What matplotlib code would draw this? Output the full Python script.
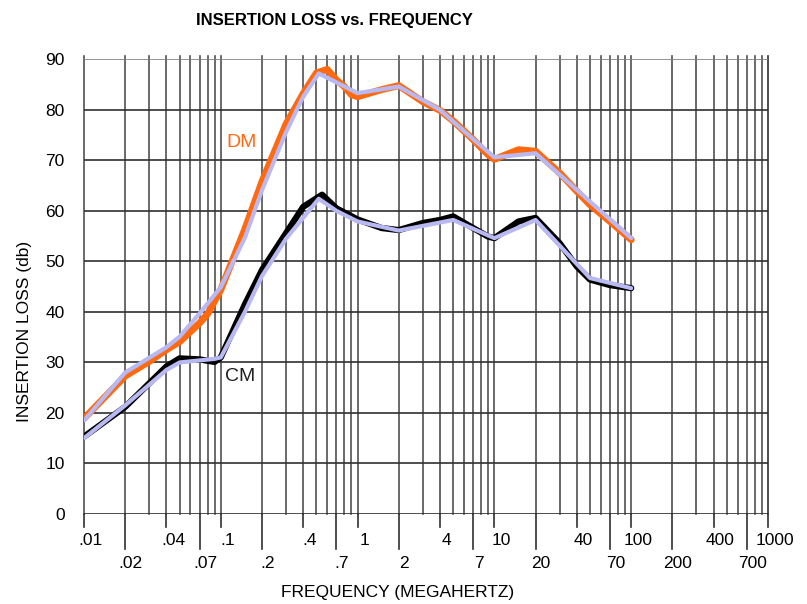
import numpy as np
import matplotlib
matplotlib.use("Agg")
import matplotlib.pyplot as plt
import matplotlib.transforms as mtransforms

plt.rcParams['font.family'] = ['Liberation Sans', 'DejaVu Sans']

# DM (differential mode) measured curve, orange
dm_freq = [0.01, 0.02, 0.03, 0.04, 0.05, 0.07, 0.08, 0.1, 0.15, 0.2, 0.3, 0.4,
           0.5, 0.6, 0.7, 0.8, 0.9, 1.0, 1.5, 2.0, 3.0, 4.0, 5.0, 7.0, 9.0,
           10.0, 15.0, 20.0, 30.0, 40.0, 50.0, 70.0, 100.0]
dm_loss = [18.9, 27.3, 30.2, 32.5, 34.1, 37.8, 39.6, 44.4, 56.4, 65.8, 77.2, 83.2,
           87.3, 88.0, 85.9, 84.6, 83.0, 82.6, 84.0, 84.8, 81.6, 79.9, 77.8, 74.1, 71.1,
           70.2, 72.1, 71.8, 67.5, 63.9, 61.2, 57.9, 54.3]

# DM overlay (lavender)
dm_ref_freq = [0.01, 0.02, 0.04, 0.05, 0.07, 0.1, 0.15, 0.2, 0.3, 0.4, 0.52,
               1.0, 2.0, 4.0, 7.0, 10.0, 20.0, 100.0]
dm_ref = [18.5, 28.0, 33.0, 35.1, 39.7, 44.9, 54.7, 64.1, 75.6, 82.6, 87.2,
          83.3, 84.6, 80.0, 74.2, 70.6, 71.4, 54.6]

# CM (common mode) measured curve, black
cm_freq = [0.01, 0.02, 0.04, 0.05, 0.07, 0.09, 0.1, 0.15, 0.2, 0.3, 0.4, 0.55,
           0.7, 1.0, 1.5, 2.0, 3.0, 4.0, 5.0, 7.0, 9.0, 10.0, 15.0, 20.0, 30.0,
           40.0, 50.0, 70.0, 100.0]
cm_loss = [15.3, 21.2, 29.2, 30.8, 30.6, 30.1, 31.0, 41.5, 48.3, 55.6, 60.8, 63.2,
           60.5, 58.3, 56.6, 56.2, 57.6, 58.2, 58.9, 56.6, 54.9, 54.6, 57.9, 58.6, 53.6,
           49.0, 46.4, 45.3, 44.7]

# CM overlay (lavender)
cm_ref_freq = [0.01, 0.02, 0.04, 0.05, 0.09, 0.1, 0.15, 0.2, 0.3, 0.52, 0.7,
               1.0, 2.0, 5.0, 10.0, 20.0, 50.0, 100.0]
cm_ref = [15.0, 21.5, 28.5, 30.0, 30.7, 31.0, 40.0, 47.1, 54.5, 62.4, 60.0,
          57.9, 56.1, 58.2, 54.6, 58.2, 46.7, 44.7]

y_ticks = list(range(0, 91, 10))
upper_labels = [(0.01, ".01"), (0.04, ".04"), (0.1, ".1"), (0.4, ".4"), (1, "1"),
                (4, "4"), (10, "10"), (40, "40"), (100, "100"), (400, "400"),
                (1000, "1000")]
lower_labels = [(0.02, ".02"), (0.07, ".07"), (0.2, ".2"), (0.7, ".7"), (2, "2"),
                (7, "7"), (20, "20"), (70, "70"), (200, "200"), (700, "700")]

fig = plt.figure(figsize=(8.07, 6.04), dpi=100)
ax = fig.add_axes([84 / 807, 1 - 514 / 604, 684 / 807, 454.7 / 604])
ax.set_xscale('log')
ax.set_xlim(0.01, 1000)
ax.set_ylim(0, 90)
for s in ax.spines.values():
    s.set_visible(False)

# grid
for dec in [0.01, 0.1, 1, 10, 100]:
    for m in range(1, 10):
        ax.axvline(dec * m, ymin=0, ymax=1.007, color='#505050', lw=1.2,
                   clip_on=False, zorder=1)
ax.axvline(1000, ymin=0, ymax=1.007, color='#303030', lw=1.2, clip_on=False, zorder=1)
for v in y_ticks:
    ax.axhline(v, color='#303030' if v < 90 else '#808080', lw=1.2, zorder=1)

# curves
line_kw = dict(solid_capstyle='round', solid_joinstyle='round')
ax.plot(dm_freq, dm_loss, color='#ff6a10', lw=5, zorder=3, **line_kw)
ax.plot(dm_ref_freq, dm_ref, color='#b8b8f2', lw=3, zorder=4, **line_kw)
ax.plot(cm_freq, cm_loss, color='black', lw=4.5, zorder=3, **line_kw)
ax.plot(cm_ref_freq, cm_ref, color='#b8b8f2', lw=3, zorder=4, **line_kw)

ax.text(0.141, 73.5, "DM", color='#ff6a10', fontsize=14, ha='center', va='center')
ax.text(0.138, 27.3, "CM", color='#202020', fontsize=14, ha='center', va='center')

# y ticks
ax.set_yticks(y_ticks)
ax.set_yticklabels([str(v) for v in y_ticks], fontsize=12.5)
ax.tick_params(axis='y', length=0, pad=14)
ax.set_xticks([])
ax.minorticks_off()
ax.tick_params(axis='x', which='both', length=0)

# staggered x tick marks and labels
trans = mtransforms.blended_transform_factory(ax.transData, ax.transAxes)
ax_h = 454.7
for f, lab in upper_labels:
    ax.plot([f, f], [0, -13 / ax_h], color='#303030', lw=1.2, transform=trans,
            clip_on=False)
    ax.annotate(lab, xy=(f, 0), xycoords=trans, xytext=(5, -19),
                textcoords='offset points', ha='center', va='center', fontsize=12.5)
for f, lab in lower_labels:
    ax.plot([f, f], [0, -35 / ax_h], color='#303030', lw=1.2, transform=trans,
            clip_on=False)
    ax.annotate(lab, xy=(f, 0), xycoords=trans, xytext=(4, -36),
                textcoords='offset points', ha='center', va='center', fontsize=12.5)

fig.text(334 / 807, 1 - 20 / 604, "INSERTION LOSS vs. FREQUENCY", fontsize=12,
         fontweight='bold', ha='center', va='center')
fig.text(398 / 807, 1 - 592 / 604, "FREQUENCY (MEGAHERTZ)", fontsize=12.5,
         ha='center', va='center')
fig.text(25 / 807, 1 - 331 / 604, "INSERTION LOSS (db)", fontsize=12.5,
         rotation=90, ha='center', va='center')

fig.savefig("out.png", dpi=100)
